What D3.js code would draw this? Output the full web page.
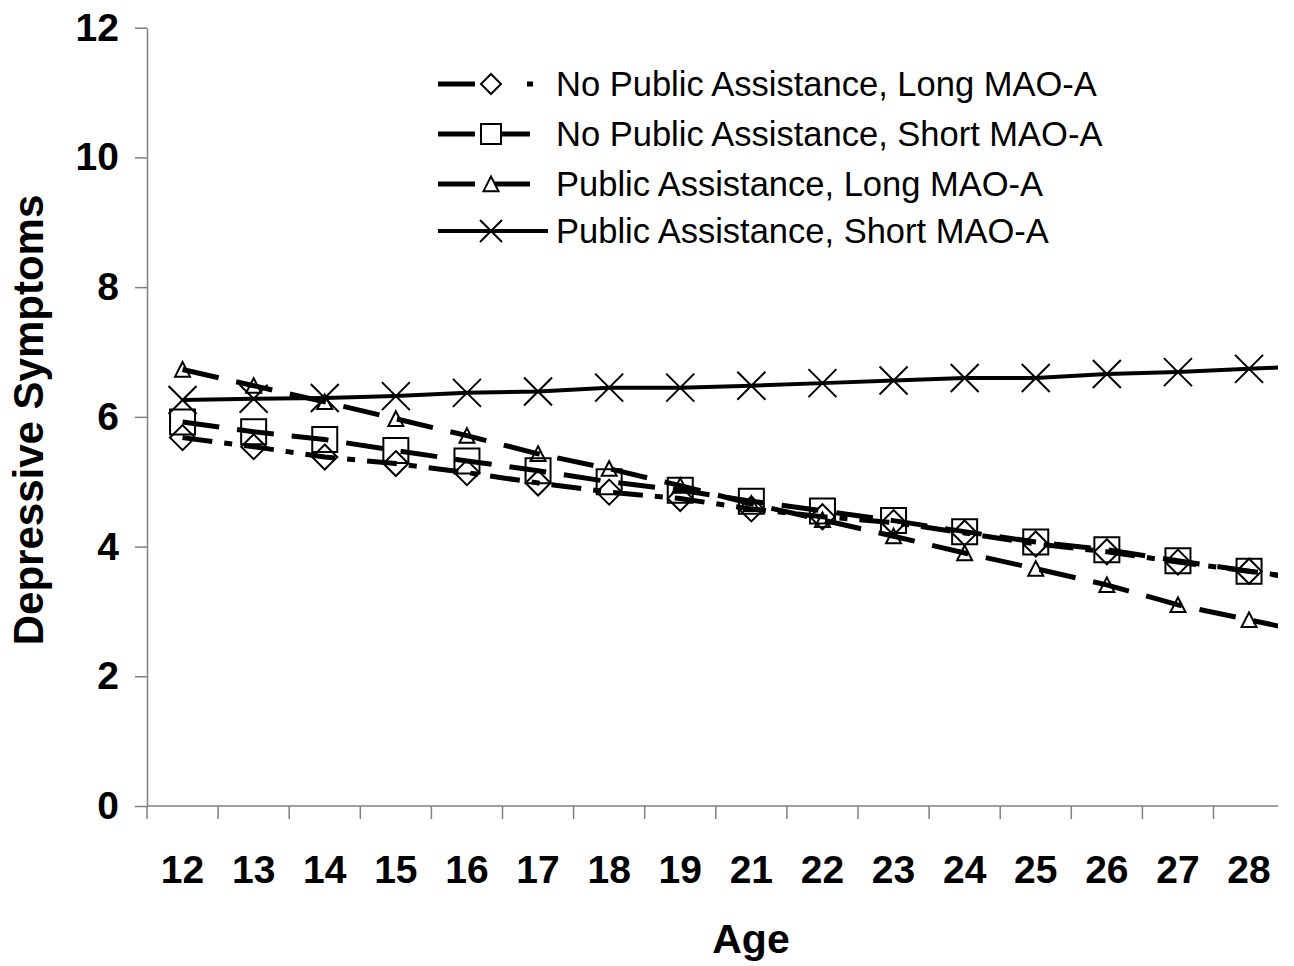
<!DOCTYPE html>
<html>
<head>
<meta charset="utf-8">
<script src="https://cdn.jsdelivr.net/npm/d3@7"></script>
<style>
  html, body { margin: 0; padding: 0; background: #fff; }
  svg { display: block; font-family: "Liberation Sans", Arial, Helvetica, sans-serif; }
</style>
</head>
<body>
<svg id="chart" width="1294" height="966"></svg>
<script>
// ---- Data ----
const ages = ["12","13","14","15","16","17","18","19","21","22","23","24","25","26","27","28"];
const yTicks = [0, 2, 4, 6, 8, 10, 12];
const seriesNames = [
  "No Public Assistance, Long MAO-A",
  "No Public Assistance, Short MAO-A",
  "Public Assistance, Long MAO-A",
  "Public Assistance, Short MAO-A"
];
const npaLong  = [5.68,5.54,5.38,5.28,5.14,4.98,4.84,4.74,4.58,4.46,4.37,4.21,4.04,3.92,3.76,3.62];
const npaShort = [5.92,5.77,5.65,5.48,5.32,5.17,5.00,4.87,4.70,4.55,4.40,4.23,4.07,3.95,3.78,3.62];
const paLong   = [6.73,6.48,6.23,5.97,5.71,5.43,5.20,4.94,4.66,4.41,4.16,3.90,3.66,3.41,3.10,2.87];
const paShort  = [6.26,6.28,6.29,6.32,6.37,6.39,6.45,6.45,6.48,6.52,6.56,6.60,6.60,6.66,6.69,6.74];

// ---- Styles ----
const styles = [
  { values: npaLong,  marker: "diamond",  dash: "30,12,8,12", legDash: "37,52,12,20", width: 5, size: 25, lsize: 20 },
  { values: npaShort, marker: "square",   dash: "37,18",      legDash: "37,18",       width: 5, size: 25, lsize: 20 },
  { values: paLong,   marker: "triangle", dash: "37,18",      legDash: "37,18",       width: 5, size: 15, lsize: 15 },
  { values: paShort,  marker: "cross",    dash: null,         legDash: null,          width: 4, size: 28, lsize: 22 }
];

const svg = d3.select("#chart");
const plotLeft = 147, plotRight = 1278, plotTop = 27.7, plotBottom = 806;
const step = 71.1;
const x = d3.scaleBand().domain(ages).range([plotLeft, plotLeft + step * ages.length]).padding(0);
const y = d3.scaleLinear().domain([0, 12]).range([plotBottom, plotTop]);
const axisColor = "#808080";

// ---- Y axis ----
const yAxis = d3.axisLeft(y).tickValues(yTicks).tickSize(12).tickSizeOuter(0).tickPadding(16);
const gy = svg.append("g").attr("transform", `translate(${plotLeft},0)`).call(yAxis);
gy.select(".domain").attr("stroke", axisColor).attr("stroke-width", 1.5);
gy.selectAll(".tick line").attr("stroke", axisColor).attr("stroke-width", 1.5);
gy.selectAll(".tick text").attr("font-size", 39).attr("font-weight", "bold")
  .attr("fill", "#000").attr("font-family", "'Liberation Sans', Arial, sans-serif");

// ---- X axis ----
const gx = svg.append("g");
gx.append("line").attr("x1", plotLeft).attr("x2", plotRight).attr("y1", plotBottom).attr("y2", plotBottom)
  .attr("stroke", axisColor).attr("stroke-width", 1.5);
gx.selectAll("line.tk").data(ages.filter(a => x(a) < plotRight)).enter().append("line")
  .attr("class", "tk")
  .attr("x1", d => x(d)).attr("x2", d => x(d))
  .attr("y1", plotBottom).attr("y2", plotBottom + 13)
  .attr("stroke", axisColor).attr("stroke-width", 1.5);
gx.selectAll("text").data(ages).enter().append("text")
  .attr("x", d => x(d) + x.bandwidth() / 2)
  .attr("y", 883)
  .attr("text-anchor", "middle")
  .attr("font-size", 39).attr("font-weight", "bold")
  .text(d => d);

// ---- Axis titles ----
svg.append("text").attr("x", 751).attr("y", 953).attr("text-anchor", "middle")
  .attr("font-size", 41).attr("font-weight", "bold").text("Age");
svg.append("text").attr("transform", "translate(43,420) rotate(-90)")
  .attr("text-anchor", "middle").attr("font-size", 42).attr("font-weight", "bold")
  .text("Depressive Symptoms");

// ---- Marker drawing ----
function markerPath(type, s) {
  const h = s / 2;
  switch (type) {
    case "diamond": return `M0,${-h}L${h},0L0,${h}L${-h},0Z`;
    case "square": return `M${-h},${-h}H${h}V${h}H${-h}Z`;
    case "triangle": return `M0,${-h}L${h},${h * 0.95}L${-h},${h * 0.95}Z`;
    case "cross": return `M${-h},${-h}L${h},${h}M${h},${-h}L${-h},${h}`;
  }
}

// clip for lines
svg.append("defs").append("clipPath").attr("id", "plotclip")
  .append("rect").attr("x", plotLeft).attr("y", 0).attr("width", plotRight - plotLeft).attr("height", plotBottom);

const cx = i => plotLeft + step * (i + 0.5);

// markers
styles.forEach(s => {
  svg.append("g").selectAll("path").data(s.values).enter().append("path")
    .attr("transform", (d, i) => `translate(${x(ages[i]) + x.bandwidth() / 2},${y(d)})`)
    .attr("d", markerPath(s.marker, s.size))
    .attr("fill", "none").attr("stroke", "#000").attr("stroke-width", 2);
});

// lines (extended beyond last category by the last segment's slope, clipped at plot edge)
const lineGen = d3.line().x(d => cx(d.i)).y(d => y(d.v));
styles.forEach(s => {
  const n = s.values.length;
  const pts = s.values.map((v, i) => ({ i, v }));
  pts.push({ i: n, v: 2 * s.values[n - 1] - s.values[n - 2] });
  svg.append("path").attr("clip-path", "url(#plotclip)")
    .attr("d", lineGen(pts))
    .attr("fill", "none").attr("stroke", "#000").attr("stroke-width", s.width)
    .attr("stroke-dasharray", s.dash)
    .attr("stroke-linecap", "butt");
});

// ---- Legend ----
const legY = [84, 134, 184, 231];
const legend = svg.append("g");
styles.forEach((s, k) => {
  const g = legend.append("g").attr("transform", `translate(0,${legY[k]})`);
  g.append("line").attr("x1", 438).attr("x2", s.legDash ? 533 : 548).attr("y1", 0).attr("y2", 0)
    .attr("stroke", "#000").attr("stroke-width", s.width).attr("stroke-dasharray", s.legDash);
  g.append("path").attr("transform", "translate(491,0)")
    .attr("d", markerPath(s.marker, s.lsize))
    .attr("fill", "#fff").attr("stroke", "#000").attr("stroke-width", 2);
  g.append("text").attr("x", 556).attr("y", 0).attr("dy", "0.36em")
    .attr("font-size", 34.5).text(seriesNames[k]);
});
</script>
</body>
</html>
